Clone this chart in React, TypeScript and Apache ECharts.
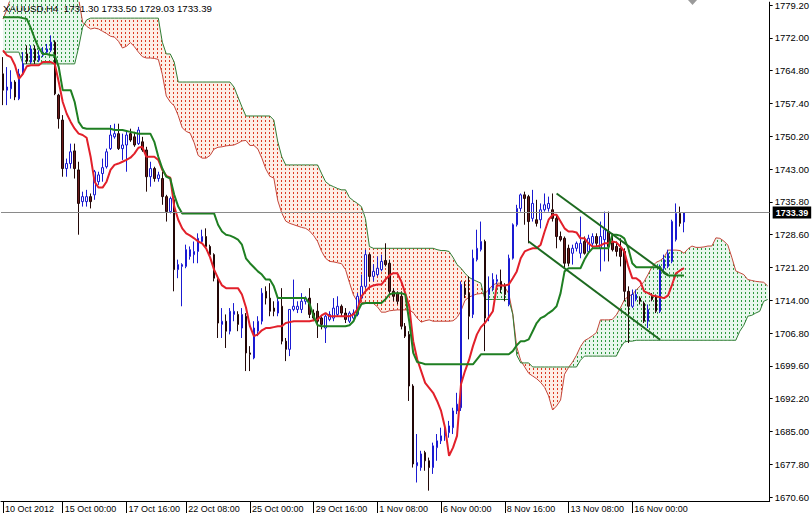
import React, { useEffect, useRef } from 'react';
import * as echarts from 'echarts';

const SYMBOL = 'XAUUSD,H4';
const FONT = '"Liberation Sans", Arial, sans-serif';

// ---- candles (H4 bars, left to right) ----
const OPEN = [
  1764.0,1760.4,1760.7,1762.2,1758.5,1764.0,1768.4,1766.6,1769.5,1767.0,
  1768.1,1768.8,1769.2,1771.0,1759.3,1753.8,1743.1,1744.2,1747.0,1742.8,
  1735.8,1735.8,1736.9,1737.3,1740.2,1742.0,1743.5,1747.5,1750.1,1750.8,
  1747.5,1748.3,1750.8,1750.1,1748.6,1749.0,1747.2,1741.3,1743.1,1740.9,
  1740.9,1736.9,1733.6,1736.2,1720.8,1721.5,1721.5,1723.7,1724.1,1724.8,
  1727.0,1728.1,1725.9,1724.1,1718.9,1708.7,1709.4,1707.2,1710.9,1710.9,
  1707.9,1710.5,1702.4,1701.3,1707.2,1709.4,1716.0,1714.5,1712.3,1711.2,
  1712.7,1705.0,1703.2,1712.0,1712.0,1712.0,1713.8,1714.5,1711.2,1711.6,
  1710.1,1707.9,1709.8,1710.1,1710.9,1712.7,1711.2,1709.4,1710.1,1710.9,
  1714.5,1717.1,1724.1,1719.3,1719.7,1720.8,1722.8,1722.2,1716.0,1715.6,
  1714.9,1708.3,1706.5,1695.1,1677.5,1677.1,1680.4,1678.6,1677.1,1681.5,
  1683.0,1684.1,1684.8,1685.9,1689.6,1690.3,1716.7,1715.6,1710.9,1723.0,
  1725.2,1727.0,1715.3,1716.7,1718.2,1718.2,1717.1,1713.1,1723.3,1730.7,
  1734.3,1737.3,1736.9,1732.1,1731.8,1731.8,1734.0,1734.3,1734.0,1732.1,
  1728.1,1727.7,1725.5,1724.4,1725.5,1724.4,1727.0,1724.8,1726.6,1728.1,
  1725.5,1727.4,1729.2,1727.0,1725.9,1725.5,1724.8,1716.0,1712.7,1714.2,
  1714.5,1713.4,1709.4,1714.9,1714.9,1711.6,1721.1,1721.5,1722.6,1727.4,
  1733.2,1731.30,
];
const CLOSE = [
  1760.4,1761.1,1762.2,1758.9,1764.0,1766.2,1766.8,1769.5,1767.0,1768.1,
  1768.8,1769.5,1771.0,1759.6,1754.1,1743.1,1744.2,1746.8,1743.1,1735.4,
  1736.9,1736.9,1735.8,1742.4,1741.7,1743.3,1746.8,1750.5,1750.8,1747.5,
  1748.3,1750.5,1749.4,1748.3,1751.6,1747.2,1741.3,1743.1,1740.9,1741.7,
  1736.9,1733.6,1736.5,1720.8,1721.9,1721.9,1725.2,1725.2,1724.8,1727.7,
  1728.1,1725.9,1724.1,1718.9,1709.0,1709.4,1707.2,1711.6,1711.6,1708.7,
  1710.9,1702.4,1702.1,1707.9,1709.4,1715.6,1714.5,1711.6,1711.6,1713.8,
  1705.0,1703.2,1712.0,1712.7,1712.7,1713.8,1714.5,1710.9,1710.1,1709.4,
  1708.7,1710.5,1710.9,1712.3,1712.7,1711.2,1709.8,1711.2,1711.2,1714.9,
  1717.1,1724.1,1719.3,1720.4,1721.1,1722.6,1721.9,1716.0,1714.9,1713.8,
  1708.3,1706.1,1695.1,1677.9,1678.2,1680.1,1678.6,1677.1,1681.9,1683.0,
  1684.1,1685.6,1686.3,1689.6,1691.1,1717.5,1715.3,1710.5,1723.3,1725.5,
  1727.0,1710.1,1716.7,1718.6,1718.6,1716.7,1715.3,1723.3,1730.7,1734.3,
  1737.3,1736.5,1731.4,1735.4,1731.0,1734.0,1735.1,1735.4,1732.1,1728.1,
  1727.4,1722.2,1722.2,1725.5,1726.6,1726.6,1724.4,1727.7,1728.1,1726.6,
  1728.1,1729.6,1725.9,1725.2,1724.8,1723.7,1716.0,1712.7,1715.3,1715.3,
  1713.8,1709.4,1712.0,1714.2,1711.6,1721.5,1723.0,1724.4,1731.4,1733.2,
  1731.0,1733.39,
];
const LOW = [
  1757.1,1757.1,1758.5,1758.2,1758.2,1763.7,1766.2,1766.2,1766.2,1766.6,
  1767.7,1768.4,1768.8,1759.3,1751.9,1741.3,1741.3,1743.1,1740.9,1728.5,
  1734.7,1734.7,1734.3,1736.2,1739.5,1740.2,1743.1,1747.2,1749.7,1747.2,
  1745.0,1742.4,1749.0,1747.9,1748.3,1746.8,1738.0,1739.1,1740.2,1740.2,
  1735.1,1731.4,1733.2,1716.0,1718.9,1712.7,1721.1,1723.0,1722.2,1722.2,
  1726.6,1725.5,1723.7,1718.2,1705.7,1705.7,1703.5,1706.5,1709.4,1707.2,
  1705.7,1698.4,1698.4,1701.0,1706.1,1708.7,1713.1,1710.5,1710.5,1710.5,
  1704.3,1700.6,1701.7,1711.6,1711.2,1711.2,1713.1,1710.1,1709.4,1705.7,
  1707.6,1704.6,1709.4,1709.4,1710.5,1710.5,1709.0,1709.0,1709.8,1710.5,
  1714.2,1716.7,1718.2,1718.2,1719.3,1720.4,1721.5,1715.3,1713.8,1713.1,
  1707.6,1705.7,1691.8,1677.1,1673.8,1676.4,1676.4,1672.0,1675.7,1678.6,
  1682.3,1683.0,1683.7,1684.5,1688.9,1689.6,1714.5,1705.4,1710.1,1722.6,
  1724.8,1702.8,1709.4,1716.0,1717.5,1715.6,1713.8,1712.7,1723.0,1730.3,
  1733.6,1730.7,1726.6,1731.4,1730.3,1729.9,1733.6,1733.6,1731.4,1725.5,
  1727.0,1721.1,1721.5,1721.9,1724.8,1723.3,1724.1,1724.4,1725.5,1725.9,
  1720.4,1722.6,1722.6,1724.8,1723.7,1721.5,1713.8,1704.6,1712.3,1713.8,
  1713.1,1709.0,1707.9,1713.8,1711.2,1711.2,1720.4,1721.1,1722.2,1727.0,
  1730.3,1729.03,
];
const HIGH = [
  1767.7,1765.5,1764.8,1762.6,1765.1,1768.8,1770.3,1770.3,1770.3,1769.2,
  1769.9,1770.6,1772.5,1771.4,1759.6,1754.9,1745.3,1748.6,1748.6,1744.6,
  1738.0,1738.4,1737.6,1742.8,1742.4,1745.3,1747.5,1752.7,1753.0,1753.0,
  1750.8,1751.2,1751.9,1751.2,1752.3,1750.1,1747.9,1744.6,1743.5,1742.4,
  1742.4,1737.3,1736.9,1736.9,1723.0,1722.2,1726.3,1725.9,1727.0,1728.8,
  1729.6,1729.9,1726.3,1724.4,1719.3,1712.3,1710.9,1712.3,1713.4,1711.6,
  1712.3,1711.2,1703.9,1709.4,1710.5,1716.7,1717.1,1717.8,1713.8,1714.9,
  1716.7,1705.7,1712.0,1718.6,1713.8,1715.6,1714.9,1716.7,1712.0,1713.4,
  1710.5,1710.9,1711.6,1714.5,1714.9,1713.1,1712.3,1711.6,1712.0,1715.6,
  1719.7,1725.2,1724.4,1722.0,1723.7,1724.1,1726.6,1723.0,1716.7,1716.0,
  1716.0,1709.0,1707.2,1695.5,1684.5,1680.8,1680.8,1679.3,1682.6,1684.5,
  1685.9,1686.3,1687.4,1690.3,1693.6,1718.2,1718.2,1719.3,1725.2,1729.6,
  1731.4,1727.4,1719.3,1720.0,1719.7,1720.8,1717.8,1724.1,1731.0,1735.1,
  1737.6,1738.0,1737.3,1738.4,1736.2,1735.4,1737.6,1736.9,1737.6,1732.9,
  1729.2,1728.1,1726.3,1726.3,1727.0,1732.5,1728.1,1728.5,1728.8,1728.8,
  1731.4,1733.6,1733.6,1728.8,1727.0,1727.7,1725.5,1717.1,1716.4,1716.4,
  1714.9,1713.8,1713.1,1715.6,1715.3,1721.9,1724.1,1725.2,1731.8,1735.4,
  1734.7,1733.50,
];

// ---- Ichimoku lines ----
const TENKAN = [
  1769.2,1768.1,1767.7,1765.9,1762.9,1764.0,1765.7,1765.9,1765.9,1765.9,
  1766.6,1766.6,1766.6,1766.2,1762.2,1757.8,1755.2,1753.4,1751.9,1750.8,
  1750.5,1749.9,1745.7,1740.2,1738.9,1738.9,1740.2,1742.8,1743.9,1744.2,
  1744.6,1745.0,1745.5,1746.4,1747.7,1747.9,1745.7,1745.7,1745.7,1745.0,
  1742.8,1741.5,1741.1,1734.7,1731.8,1729.9,1728.8,1728.3,1727.7,1727.0,
  1726.6,1725.5,1723.5,1720.8,1718.9,1717.3,1716.7,1716.7,1716.7,1716.7,
  1715.3,1712.5,1708.3,1706.1,1706.5,1707.4,1707.9,1707.9,1708.1,1708.3,
  1708.3,1709.0,1709.2,1709.4,1709.4,1709.4,1709.4,1709.4,1709.6,1709.8,
  1710.7,1711.2,1710.5,1710.5,1710.5,1710.5,1710.5,1710.5,1710.9,1712.0,
  1714.9,1716.0,1716.9,1717.3,1717.5,1717.5,1718.6,1719.5,1720.0,1720.0,
  1718.2,1715.6,1712.7,1705.0,1701.0,1698.4,1695.8,1694.7,1693.6,1691.8,
  1689.6,1685.9,1679.7,1681.5,1684.1,1695.5,1698.4,1700.8,1703.9,1706.5,
  1708.1,1709.0,1710.3,1711.6,1717.3,1717.3,1717.3,1717.5,1718.9,1720.4,
  1723.3,1724.8,1725.2,1725.5,1725.5,1726.3,1729.2,1731.8,1732.9,1732.9,
  1731.4,1729.9,1729.2,1729.2,1729.0,1727.7,1727.7,1726.6,1725.9,1725.9,
  1726.1,1726.6,1726.6,1727.0,1726.8,1725.9,1724.8,1721.5,1718.9,1718.9,
  1718.2,1716.0,1715.6,1715.1,1714.9,1714.7,1714.5,1715.1,1717.5,1720.0,
  1720.6,1721.1,
];
const KIJUN = [
  1776.5,1776.5,1776.5,1776.5,1776.5,1776.3,1776.1,1774.1,1771.7,1769.7,
  1768.4,1768.4,1768.1,1768.1,1765.5,1760.4,1760.4,1760.4,1757.8,1753.4,
  1752.1,1751.9,1751.9,1751.9,1751.9,1751.9,1751.9,1751.9,1751.6,1751.6,
  1751.6,1751.4,1751.2,1751.0,1750.8,1750.8,1750.8,1750.8,1749.0,1745.7,
  1743.1,1741.3,1740.9,1737.3,1734.7,1733.2,1733.2,1733.2,1733.2,1733.2,
  1733.2,1733.2,1733.2,1733.2,1730.7,1729.2,1728.5,1728.3,1727.9,1727.4,
  1726.3,1723.3,1722.2,1721.3,1720.4,1719.7,1718.6,1718.6,1717.1,1714.5,
  1714.5,1714.5,1714.5,1714.5,1714.5,1714.5,1714.5,1713.2,1710.5,1708.5,
  1708.3,1708.3,1708.3,1708.3,1708.3,1708.3,1708.3,1708.5,1709.4,1711.4,
  1713.2,1713.4,1713.4,1713.4,1713.4,1713.4,1714.2,1715.3,1715.6,1715.6,
  1715.6,1715.3,1709.4,1702.4,1700.4,1700.2,1699.9,1699.9,1699.9,1699.9,
  1699.9,1699.9,1699.9,1699.9,1699.9,1699.9,1699.9,1699.9,1699.9,1701.0,
  1702.1,1702.1,1702.1,1702.1,1702.1,1702.1,1702.1,1702.1,1702.8,1704.1,
  1705.0,1705.0,1705.4,1707.2,1709.0,1710.1,1710.5,1711.2,1711.8,1712.7,
  1715.6,1720.4,1721.1,1721.1,1721.1,1721.1,1723.0,1724.5,1725.5,1725.5,
  1725.5,1725.5,1725.5,1728.5,1728.5,1728.3,1727.7,1725.5,1722.2,1721.3,
  1721.3,1721.3,1721.3,1721.3,1721.3,1721.3,1720.0,1719.5,1719.5,1719.5,
  1719.5,1719.5,
];
// Senkou spans (shifted 26 bars ahead, so they run past the last candle)
const SENKOU_A = [
  1776.1,1778.3,1781.0,1781.0,1781.0,1781.0,1781.0,1781.0,1781.0,1781.0,
  1781.0,1781.0,1781.0,1781.0,1781.0,1781.0,1781.0,1781.0,1781.0,1780.5,
  1775.4,1774.5,1773.9,1774.1,1773.9,1773.4,1772.9,1772.3,1772.1,1771.2,
  1769.7,1770.1,1770.9,1770.0,1768.8,1767.8,1767.5,1767.5,1767.4,1767.2,
  1763.9,1759.1,1757.8,1756.9,1754.8,1752.1,1751.3,1750.9,1748.8,1746.0,
  1745.4,1745.4,1746.0,1747.4,1747.8,1747.9,1748.1,1748.2,1748.3,1748.7,
  1749.2,1749.3,1748.2,1748.2,1747.4,1745.4,1743.0,1741.4,1741.0,1736.0,
  1733.3,1731.5,1731.0,1730.7,1730.4,1730.1,1729.9,1729.3,1728.3,1727.0,
  1724.8,1723.3,1722.6,1722.5,1722.3,1722.1,1720.8,1717.9,1715.2,1713.7,
  1713.5,1713.6,1713.3,1713.3,1712.6,1711.4,1711.4,1711.7,1711.8,1711.9,
  1711.9,1711.9,1711.9,1711.3,1710.1,1709.2,1709.5,1709.7,1709.4,1709.4,
  1709.4,1709.4,1709.4,1709.5,1710.2,1711.7,1714.0,1714.7,1715.1,1715.4,
  1715.5,1715.5,1716.4,1717.4,1717.8,1717.8,1716.9,1715.5,1711.1,1703.7,
  1700.7,1699.3,1697.9,1697.3,1696.7,1695.9,1694.8,1692.9,1689.8,1690.7,
  1692.0,1697.7,1699.2,1700.4,1701.9,1703.8,1705.1,1705.6,1706.2,1706.9,
  1709.7,1709.7,1709.7,1709.8,1710.8,1712.3,1714.1,1714.9,1715.3,1716.3,
  1717.2,1718.2,1719.8,1721.5,1722.4,1722.8,1723.5,1725.1,1725.1,1725.1,
  1725.0,1724.4,1725.4,1726.0,1725.7,1725.7,1725.8,1726.0,1726.0,1727.8,
  1727.7,1727.1,1726.2,1723.5,1720.5,1720.1,1719.7,1718.6,1718.4,1718.2,
  1718.1,1718.0,1717.2,
];
const SENKOU_B = [
  1768.8,1768.8,1768.8,1768.8,1768.8,1766.2,1766.2,1766.2,1766.2,1766.2,
  1766.2,1766.2,1766.2,1766.2,1766.2,1766.2,1766.2,1766.2,1766.2,1769.9,
  1774.3,1775.9,1776.3,1776.3,1776.3,1776.3,1776.3,1776.3,1776.3,1776.3,
  1776.3,1776.3,1776.3,1776.3,1776.3,1776.3,1776.3,1776.3,1776.3,1776.3,
  1771.0,1768.4,1768.4,1766.6,1762.2,1762.2,1762.2,1762.2,1762.2,1762.2,
  1762.2,1762.2,1762.2,1762.2,1762.2,1762.2,1762.2,1762.2,1761.1,1758.9,
  1756.7,1754.7,1754.7,1754.7,1754.7,1754.7,1754.7,1754.7,1753.8,1749.0,
  1745.7,1743.9,1743.9,1743.9,1743.9,1743.9,1743.9,1743.9,1743.9,1743.9,
  1742.0,1740.2,1739.5,1739.1,1738.7,1738.4,1738.4,1736.7,1736.0,1735.4,
  1734.7,1732.1,1725.9,1725.5,1725.5,1725.5,1725.5,1725.5,1725.5,1725.5,
  1725.5,1725.5,1725.5,1725.5,1725.5,1725.5,1725.5,1725.5,1725.5,1725.2,
  1725.0,1725.0,1724.8,1723.5,1721.9,1721.1,1720.0,1719.1,1718.6,1718.2,
  1717.8,1714.2,1714.2,1714.2,1714.2,1714.2,1714.2,1714.2,1710.9,1701.9,
  1700.2,1700.2,1700.2,1699.3,1699.3,1699.3,1699.3,1699.3,1699.3,1699.3,
  1699.3,1699.3,1699.3,1699.3,1699.3,1700.8,1701.7,1701.7,1701.7,1701.7,
  1701.7,1701.7,1701.7,1701.7,1701.7,1703.5,1704.8,1705.0,1705.0,1705.2,
  1705.2,1705.2,1705.2,1705.2,1705.2,1705.2,1705.2,1705.2,1705.2,1705.2,
  1705.2,1705.2,1705.2,1705.2,1705.2,1705.2,1705.2,1705.2,1705.2,1705.2,
  1705.2,1705.2,1705.2,1705.2,1705.2,1707.2,1708.5,1710.5,1710.7,1711.2,
  1711.6,1713.8,1714.2,
];

// ---- hand-drawn trend channel: [bar index, price] end points ----
const CHANNEL_UPPER = [[139, 1737.6], [167, 1719.6]];
const CHANNEL_LOWER = [[132, 1727.0], [165, 1705.3]];

// ---- axes ----
const BAR_COUNT = 193;
const X_TICK_BARS = [0, 15, 31, 46, 62, 78, 94, 110, 126, 142, 158];
const X_TICK_LABELS = ['10 Oct 2012', '15 Oct 00:00', '17 Oct 16:00', '22 Oct 08:00', '25 Oct 00:00',
  '29 Oct 16:00', '1 Nov 08:00', '6 Nov 00:00', '8 Nov 16:00', '13 Nov 08:00', '16 Nov 00:00'];
const Y_TICK_VALUES = [1670.60, 1677.84, 1685.08, 1692.32, 1699.56, 1706.80, 1714.04, 1721.28,
  1728.52, 1735.76, 1743.00, 1750.24, 1757.48, 1764.72, 1771.96, 1779.20];
const Y_TICK_LABELS = ['1670.60', '1677.80', '1685.00', '1692.20', '1699.60', '1706.80', '1714.00', '1721.20',
  '1728.60', '1735.80', '1743.00', '1750.20', '1757.40', '1764.80', '1772.00', '1779.20'];
const Y_MIN = 1669.72;
const Y_MAX = 1779.83;

function makeHatch(dash: string, bg: string) {
  const c = document.createElement('canvas');
  c.width = 4;
  c.height = 4;
  const ctx = c.getContext('2d') as CanvasRenderingContext2D;
  ctx.fillStyle = bg;
  ctx.fillRect(0, 0, 4, 4);
  ctx.fillStyle = dash;
  ctx.fillRect(1, 0, 1, 2);
  return { image: c, repeat: 'repeat', imageWidth: 4, imageHeight: 4 } as any;
}

export default function App() {
  const ref = useRef<HTMLDivElement | null>(null);

  useEffect(() => {
    if (!ref.current) return;
    const chart = echarts.init(ref.current, undefined, { renderer: 'svg' });

    const hatchRed = makeHatch('#dc3a22', 'rgba(252,224,210,0.55)');
    const hatchGreen = makeHatch('#2e9a3e', 'rgba(214,240,222,0.55)');

    const categories = Array.from({ length: BAR_COUNT }, (_, i) => 'bar' + i);
    const tickSet = new Set(X_TICK_BARS);
    const labelMap = new Map(X_TICK_BARS.map((b, k) => [b, X_TICK_LABELS[k]]));
    const candles = OPEN.map((o, i) => [o, CLOSE[i], LOW[i], HIGH[i]]);
    const last = OPEN.length - 1;

    const renderCloud = (_params: any, api: any) => {
      const pts = SENKOU_A.map((a, i) => {
        const pa = api.coord([i, a]);
        const pb = api.coord([i, SENKOU_B[i]]);
        return { x: pa[0], ya: pa[1], yb: pb[1] };
      });
      const children: any[] = [];
      let run: any = null;
      const closeRun = (r: any) => {
        children.push({
          type: 'polygon',
          silent: true,
          shape: { points: r.top.concat(r.bot.slice().reverse()) },
          style: { fill: r.bull ? hatchGreen : hatchRed, stroke: 'none' },
        });
      };
      pts.forEach((p, i) => {
        const bull = p.ya <= p.yb;
        if (!run) {
          run = { bull, top: [[p.x, p.ya]], bot: [[p.x, p.yb]] };
          return;
        }
        if (bull !== run.bull) {
          const q = pts[i - 1];
          const d0 = q.yb - q.ya;
          const d1 = p.yb - p.ya;
          const t = d0 / (d0 - d1);
          const xm = q.x + t * (p.x - q.x);
          const ym = q.ya + t * (p.ya - q.ya);
          run.top.push([xm, ym]);
          run.bot.push([xm, ym]);
          closeRun(run);
          run = { bull, top: [[xm, ym], [p.x, p.ya]], bot: [[xm, ym], [p.x, p.yb]] };
        } else {
          run.top.push([p.x, p.ya]);
          run.bot.push([p.x, p.yb]);
        }
      });
      if (run) closeRun(run);
      return { type: 'group', children };
    };

    const nearestLabel = (v: number) => {
      let best = 0;
      Y_TICK_VALUES.forEach((t, k) => {
        if (Math.abs(t - v) < Math.abs(Y_TICK_VALUES[best] - v)) best = k;
      });
      return Y_TICK_LABELS[best];
    };

    const option: any = {
      animation: false,
      backgroundColor: '#ffffff',
      title: {
        text: `${SYMBOL}  ${OPEN[last].toFixed(2)} ${HIGH[last].toFixed(2)} ${LOW[last].toFixed(2)} ${CLOSE[last].toFixed(2)}`,
        left: 3,
        top: 3,
        padding: 0,
        textStyle: { fontSize: 9.7, fontWeight: 'normal', color: '#000', fontFamily: FONT },
      },
      grid: { left: 1, right: 39, top: 0, bottom: 15, containLabel: false },
      xAxis: {
        type: 'category',
        data: categories,
        boundaryGap: true,
        axisLine: { show: true, lineStyle: { color: '#000', width: 1 } },
        axisTick: {
          show: true,
          alignWithLabel: true,
          interval: (i: number) => tickSet.has(i),
          length: 12,
          lineStyle: { color: '#000' },
        },
        axisLabel: {
          interval: (i: number) => tickSet.has(i),
          formatter: (_v: string, i: number) => labelMap.get(i) ?? '',
          align: 'left',
          margin: 3,
          padding: [0, 0, 0, 2],
          fontSize: 9,
          color: '#000',
          fontFamily: FONT,
        },
        splitLine: { show: false },
      },
      yAxis: {
        type: 'value',
        position: 'right',
        min: Y_MIN,
        max: Y_MAX,
        axisLine: { show: true, lineStyle: { color: '#000', width: 1 } },
        axisTick: { show: true, length: 3, customValues: Y_TICK_VALUES, lineStyle: { color: '#000' } },
        axisLabel: {
          customValues: Y_TICK_VALUES,
          formatter: (v: number) => nearestLabel(v),
          margin: 5,
          fontSize: 9.5,
          color: '#000',
          fontFamily: FONT,
        },
        splitLine: { show: false },
      },
      graphic: [
        {
          type: 'polygon',
          silent: true,
          shape: { points: [[688, 0], [697, 0], [692.5, 5]] },
          style: { fill: '#9a9a9a' },
        },
      ],
      series: [
        {
          type: 'custom',
          name: 'Kumo',
          silent: true,
          z: 1,
          data: [[0, SENKOU_A[0]]],
          renderItem: renderCloud,
        },
        {
          type: 'line',
          name: 'Senkou Span A',
          data: SENKOU_A,
          symbol: 'none',
          silent: true,
          z: 2,
          lineStyle: { color: '#c4473b', width: 1 },
        },
        {
          type: 'line',
          name: 'Senkou Span B',
          data: SENKOU_B,
          symbol: 'none',
          silent: true,
          z: 2,
          lineStyle: { color: '#2f7d34', width: 1 },
        },
        {
          type: 'candlestick',
          name: SYMBOL,
          data: candles,
          barWidth: 2,
          z: 3,
          silent: true,
          itemStyle: {
            color: '#ffffff',
            color0: '#6a1b1b',
            borderColor: '#1a1ad2',
            borderColor0: '#220707',
            borderWidth: 1,
          },
          markLine: {
            silent: true,
            symbol: ['none', 'none'],
            emphasis: { disabled: true },
            lineStyle: { color: '#8a8a8a', width: 1, type: 'solid' },
            label: {
              show: true,
              position: 'end',
              distance: 3,
              formatter: CLOSE[last].toFixed(2),
              color: '#ffffff',
              backgroundColor: '#000000',
              padding: [2, 3, 1, 3],
              fontSize: 9,
              fontWeight: 'bold',
              fontFamily: FONT,
            },
            data: [{ yAxis: CLOSE[last] }],
          },
        },
        {
          type: 'line',
          name: 'Tenkan-sen',
          data: TENKAN,
          symbol: 'none',
          silent: true,
          z: 4,
          lineStyle: { color: '#e2202a', width: 2 },
        },
        {
          type: 'line',
          name: 'Kijun-sen',
          data: KIJUN,
          symbol: 'none',
          silent: true,
          z: 4,
          lineStyle: { color: '#1f7f22', width: 2 },
        },
        {
          type: 'line',
          name: 'Channel top',
          data: CHANNEL_UPPER,
          symbol: 'none',
          silent: true,
          z: 5,
          lineStyle: { color: '#1d6a20', width: 2 },
        },
        {
          type: 'line',
          name: 'Channel bottom',
          data: CHANNEL_LOWER,
          symbol: 'none',
          silent: true,
          z: 5,
          lineStyle: { color: '#1d6a20', width: 2 },
        },
      ],
    };

    chart.setOption(option);
    return () => {
      chart.dispose();
    };
  }, []);

  return (
    <div
      ref={ref}
      style={{ position: 'fixed', left: 0, top: 0, width: 812, height: 516, background: '#fff' }}
    />
  );
}
